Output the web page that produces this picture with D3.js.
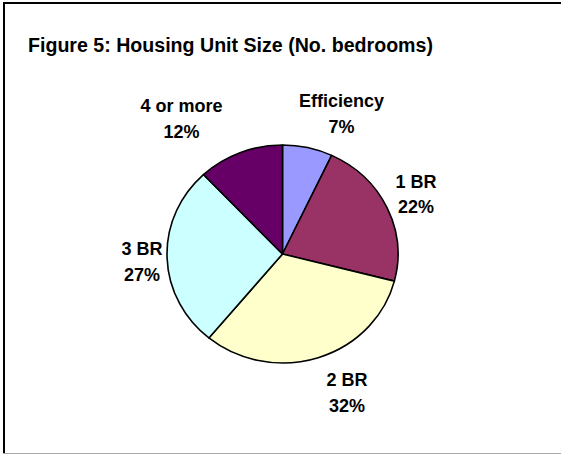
<!DOCTYPE html>
<html>
<head>
<meta charset="utf-8">
<script src="https://cdn.jsdelivr.net/npm/d3@7"></script>
<style>
  html, body { margin: 0; padding: 0; background: #fff; }
  svg { display: block; }
  text { font-family: "Liberation Sans", Arial, sans-serif; font-weight: bold; fill: #000; }
</style>
</head>
<body>
<svg id="chart" width="561" height="455"></svg>
<script>
// Housing unit size by number of bedrooms (percent of units)
const categories = ["Efficiency", "1 BR", "2 BR", "3 BR", "4 or more"];
const shares = [7, 22, 32, 27, 12];
const sliceColors = ["#9999FF", "#993366", "#FFFFCC", "#CCFFFF", "#660066"];
const title = "Figure 5: Housing Unit Size (No. bedrooms)";

const W = 561, H = 455;
const cx = 282.5, cy = 254, rx = 115.5, ry = 109;

// per-label fine placement around the pie edge
const labelNudge = {
  "Efficiency": [22.3, -5.4],
  "1 BR": [1.3, -1.3],
  "2 BR": [19.4, 7.3],
  "3 BR": [5.4, 3],
  "4 or more": [-39.7, -7.1]
};

const svg = d3.select("#chart");

// frame: heavy top/left edges, light bottom edge
svg.append("line").attr("x1", 3).attr("x2", W).attr("y1", 3).attr("y2", 3)
  .attr("stroke", "#000").attr("stroke-width", 2);
svg.append("line").attr("x1", 4).attr("x2", 4).attr("y1", 2).attr("y2", 454)
  .attr("stroke", "#000").attr("stroke-width", 2);
svg.append("line").attr("x1", 3).attr("x2", W).attr("y1", 453.5).attr("y2", 453.5)
  .attr("stroke", "#a8a8a8").attr("stroke-width", 1);

svg.append("text").attr("x", 28).attr("y", 52)
  .style("font-size", "19.6px").text(title);

const data = categories.map((c, i) => ({ name: c, value: shares[i], color: sliceColors[i] }));
const pie = d3.pie().value(d => d.value).sort(null);
const arcs = pie(data);
const arc = d3.arc().innerRadius(0).outerRadius(rx);

const g = svg.append("g")
  .attr("transform", `translate(${cx},${cy}) scale(1,${ry / rx})`);
g.selectAll("path").data(arcs).join("path")
  .attr("d", arc)
  .attr("fill", d => d.data.color)
  .attr("stroke", "#000")
  .attr("stroke-width", 1.6)
  .attr("vector-effect", "non-scaling-stroke")
  .attr("stroke-linejoin", "round");

// labels: name on the first line, percent below
const fs = 18, lineGap = 25.5, capH = 12.9, pad = 10;
arcs.forEach(a => {
  const m = (a.startAngle + a.endAngle) / 2;
  const s = Math.sin(m), c = Math.cos(m);
  const px = cx + (rx + pad) * s;
  const py = cy - (ry + pad) * c;
  const t = svg.append("text").attr("text-anchor", "middle").style("font-size", fs + "px");
  t.append("tspan").attr("x", 0).attr("y", 0).text(a.data.name);
  t.append("tspan").attr("x", 0).attr("y", lineGap).text(a.data.value + "%");
  const bw = t.node().getBBox().width;
  const bh = lineGap + capH;
  const n = labelNudge[a.data.name] || [0, 0];
  const bx = px + s * bw / 2 + n[0];
  const by = py - c * bh / 2 + n[1];
  const b1 = by - lineGap / 2 + capH / 2;
  t.selectAll("tspan").attr("x", bx).attr("y", (d, i) => b1 + i * lineGap);
});
</script>
</body>
</html>
